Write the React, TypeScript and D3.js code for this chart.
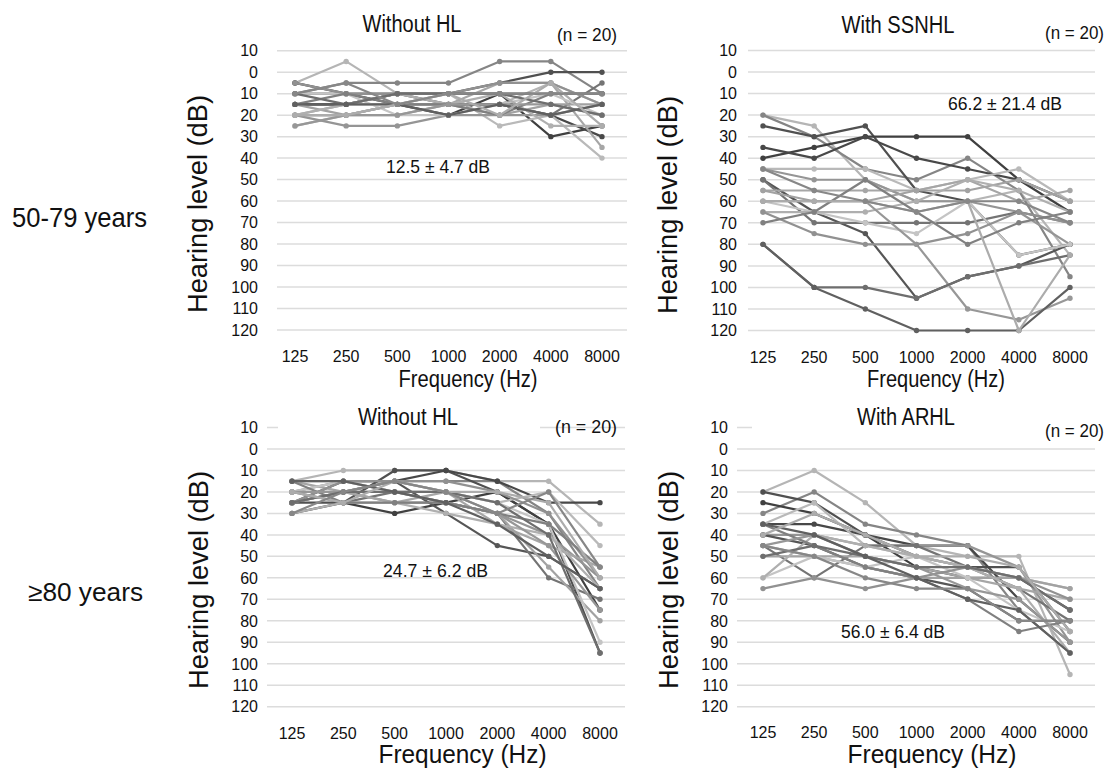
import { line, scaleLinear, scalePoint } from "d3";

const FREQUENCIES = ["125", "250", "500", "1000", "2000", "4000", "8000"];
const DB_TICKS = [-10, 0, 10, 20, 30, 40, 50, 60, 70, 80, 90, 100, 110, 120];

const ROW_LABELS = ["50-79 years", "≥80 years"];
const PANEL_TITLES = ["Without HL", "With SSNHL", "Without HL", "With ARHL"];
const SAMPLE_SIZES = ["(n = 20)", "(n = 20)", "(n = 20)", "(n = 20)"];
const SUMMARIES = ["12.5 ± 4.7 dB", "66.2 ± 21.4 dB", "24.7 ± 6.2 dB", "56.0 ± 6.4 dB"];
const Y_TITLE = "Hearing level (dB)";
const X_TITLE = "Frequency (Hz)";

// hearing thresholds (dB) per subject, 125 .. 8000 Hz
const MID_NORMAL = [
  [5, -5, 10, 15, 15, 5, 15],
  [10, 5, 5, 5, -5, -5, 10],
  [15, 15, 10, 10, 5, 0, 0],
  [5, 10, 15, 20, 10, 30, 25],
  [20, 20, 15, 15, 15, 20, 30],
  [25, 20, 15, 10, 25, 20, 40],
  [20, 25, 25, 20, 20, 20, 15],
  [15, 15, 10, 10, 10, 10, 10],
  [10, 10, 10, 15, 15, 20, 5],
  [20, 15, 15, 15, 5, 5, 35],
  [15, 20, 20, 15, 20, 15, 15],
  [10, 10, 20, 20, 15, 10, 20],
  [20, 15, 10, 15, 10, 25, 25],
  [5, 10, 10, 10, 5, 5, 15],
  [15, 10, 15, 15, 20, 10, 10],
  [25, 20, 20, 15, 15, 15, 20],
  [10, 15, 10, 10, 10, 15, 20],
  [15, 15, 15, 20, 15, 20, 15],
  [20, 20, 15, 10, 20, 5, 25],
  [10, 5, 15, 10, 10, 10, 10],
];

const MID_SSNHL = [
  [20, 25, 50, 60, 60, 55, 85],
  [20, 30, 45, 50, 40, 55, 95],
  [25, 30, 25, 55, 60, 85, 80],
  [40, 35, 30, 30, 30, 50, 65],
  [35, 40, 30, 40, 45, 50, 60],
  [45, 45, 45, 55, 50, 45, 60],
  [45, 50, 50, 60, 60, 65, 80],
  [50, 65, 75, 105, 95, 90, 80],
  [50, 70, 70, 70, 70, 65, 70],
  [55, 55, 55, 55, 50, 60, 55],
  [55, 60, 60, 55, 55, 50, 60],
  [60, 65, 70, 75, 60, 85, 80],
  [65, 65, 65, 60, 50, 55, 65],
  [65, 75, 80, 80, 75, 65, 70],
  [70, 65, 50, 65, 80, 70, 65],
  [60, 60, 60, 80, 110, 115, 105],
  [80, 100, 100, 105, 95, 90, 85],
  [80, 100, 110, 120, 120, 120, 100],
  [60, 60, 60, 65, 60, 120, 85],
  [45, 55, 60, 65, 60, 60, 70],
];

const OLD_NORMAL = [
  [15, 10, 10, 10, 15, 15, 35],
  [20, 15, 15, 15, 15, 30, 65],
  [25, 25, 10, 10, 20, 35, 95],
  [30, 25, 30, 25, 20, 35, 75],
  [25, 15, 15, 10, 15, 25, 25],
  [15, 15, 20, 20, 25, 20, 45],
  [20, 20, 25, 25, 30, 40, 60],
  [25, 20, 15, 30, 45, 50, 65],
  [20, 25, 20, 25, 30, 60, 70],
  [15, 20, 25, 20, 35, 45, 55],
  [25, 20, 20, 25, 30, 55, 80],
  [20, 15, 20, 20, 25, 35, 90],
  [30, 25, 25, 30, 35, 40, 65],
  [25, 15, 15, 15, 20, 30, 60],
  [15, 25, 25, 25, 30, 35, 55],
  [20, 20, 15, 20, 30, 45, 75],
  [25, 20, 20, 20, 25, 40, 95],
  [15, 15, 20, 25, 35, 50, 65],
  [20, 25, 15, 20, 20, 25, 60],
  [30, 20, 15, 20, 30, 20, 55],
];

const OLD_ARHL = [
  [20, 10, 25, 45, 50, 50, 105],
  [30, 20, 35, 40, 45, 75, 95],
  [20, 25, 40, 50, 55, 55, 85],
  [25, 30, 40, 55, 60, 60, 75],
  [35, 35, 40, 45, 45, 70, 90],
  [35, 25, 45, 50, 55, 60, 65],
  [40, 40, 45, 45, 45, 55, 90],
  [40, 45, 55, 60, 65, 80, 80],
  [45, 60, 45, 45, 55, 65, 80],
  [45, 50, 50, 55, 60, 65, 70],
  [50, 50, 55, 60, 60, 60, 65],
  [60, 50, 55, 50, 60, 75, 85],
  [60, 40, 45, 50, 55, 65, 95],
  [65, 60, 65, 60, 55, 60, 70],
  [35, 45, 55, 60, 70, 85, 80],
  [45, 40, 50, 55, 65, 70, 90],
  [50, 45, 50, 55, 55, 60, 75],
  [35, 40, 50, 60, 70, 75, 95],
  [40, 30, 40, 50, 50, 55, 85],
  [45, 50, 60, 65, 65, 80, 80],
];

const PANEL_DATA = [MID_NORMAL, MID_SSNHL, OLD_NORMAL, OLD_ARHL];

// grey shades, one per subject line
const SHADES = [
  "#b5b5b5", "#858585", "#505050", "#404040", "#484848",
  "#b9b9b9", "#959595", "#565656", "#747474", "#a6a6a6",
  "#a2a2a2", "#c4c4c4", "#afafaf", "#919191", "#808080",
  "#979797", "#6e6e6e", "#606060", "#acacac", "#878787",
];

const LAYOUT = [
  { grid: [277, 627], xr: [295, 602], yr: [50.7, 330], tickX: 258, tickY: 362,
    title: [412, 32, 99], n: [557, 40.5, 60], stat: [386, 173, 104],
    yTitle: [207, 204], xTitle: [468, 387, 139, 23], mask: null },
  { grid: [748, 1095], xr: [763, 1070], yr: [50.5, 330.5], tickX: 737, tickY: 363,
    title: [898, 33, 113], n: [1045, 38.5, 59], stat: [948, 110, 114],
    yTitle: [677, 205], xTitle: [936, 387, 138, 23], mask: null },
  { grid: [267, 625], xr: [292, 600], yr: [427.5, 706.7], tickX: 258, tickY: 738.5,
    title: [408, 425, 100], n: [555, 433, 62], stat: [383, 577, 105],
    yTitle: [208, 580], xTitle: [462.5, 763, 168, 25], mask: [278, 540] },
  { grid: [737, 1095], xr: [763, 1070], yr: [427.5, 706.7], tickX: 728, tickY: 737.5,
    title: [906, 425, 98], n: [1045, 437, 59], stat: [841, 638, 104],
    yTitle: [678, 580], xTitle: [932, 763, 169, 25], mask: [752, 1100] },
];

const FONT = "'Liberation Sans', Arial, sans-serif";

function Panel({ index }: { index: number }) {
  const L = LAYOUT[index];
  const series = PANEL_DATA[index];
  const x = scalePoint<string>().domain(FREQUENCIES).range(L.xr as [number, number]);
  const y = scaleLinear().domain([-10, 120]).range(L.yr as [number, number]);
  const path = line<number>()
    .x((_, i) => x(FREQUENCIES[i]) as number)
    .y((d) => y(d));

  return (
    <g fontFamily={FONT}>
      {DB_TICKS.map((t) => (
        <g key={t}>
          <line x1={L.grid[0]} x2={L.grid[1]} y1={y(t)} y2={y(t)} stroke="#dcdcdc" strokeWidth={1.5} />
          <text x={L.tickX} y={y(t)} dy="0.36em" textAnchor="end" fontSize={16} fill="#111">
            {Math.abs(t)}
          </text>
        </g>
      ))}
      {L.mask && (
        <rect x={L.mask[0]} y={y(-10) - 4} width={L.mask[1] - L.mask[0]} height={8} fill="#fff" />
      )}
      {FREQUENCIES.map((f) => (
        <text key={f} x={x(f)} y={L.tickY} textAnchor="middle" fontSize={16} fill="#111">
          {f}
        </text>
      ))}
      {series.map((s, i) => (
        <g key={i} stroke={SHADES[i]} fill={SHADES[i]}>
          <path d={path(s) ?? ""} fill="none" strokeWidth={2.2} strokeLinejoin="round" />
          {s.map((v, j) => (
            <circle key={j} cx={x(FREQUENCIES[j])} cy={y(v)} r={2.7} stroke="none" />
          ))}
        </g>
      ))}
      <text x={L.title[0]} y={L.title[1]} textAnchor="middle" fontSize={23} fill="#111"
        textLength={L.title[2]} lengthAdjust="spacingAndGlyphs">
        {PANEL_TITLES[index]}
      </text>
      <text x={L.n[0]} y={L.n[1]} fontSize={19} fill="#111" textLength={L.n[2]} lengthAdjust="spacingAndGlyphs">
        {SAMPLE_SIZES[index]}
      </text>
      <text x={L.stat[0]} y={L.stat[1]} fontSize={19} fill="#111" textLength={L.stat[2]} lengthAdjust="spacingAndGlyphs">
        {SUMMARIES[index]}
      </text>
      <text transform={`translate(${L.yTitle[0]},${L.yTitle[1]}) rotate(-90)`} textAnchor="middle"
        fontSize={28} fill="#111" textLength={218} lengthAdjust="spacingAndGlyphs">
        {Y_TITLE}
      </text>
      <text x={L.xTitle[0]} y={L.xTitle[1]} textAnchor="middle" fontSize={L.xTitle[3]} fill="#111"
        textLength={L.xTitle[2]} lengthAdjust="spacingAndGlyphs">
        {X_TITLE}
      </text>
    </g>
  );
}

export default function App() {
  return (
    <svg width={1110} height={772} viewBox="0 0 1110 772"
      style={{ position: "absolute", left: 0, top: 0, background: "#fff" }}>
      <rect width={1110} height={772} fill="#fff" />
      <text x={12} y={227} fontFamily={FONT} fontSize={28} fill="#111" textLength={135} lengthAdjust="spacingAndGlyphs">
        {ROW_LABELS[0]}
      </text>
      <text x={28} y={601} fontFamily={FONT} fontSize={26} fill="#111" textLength={115} lengthAdjust="spacingAndGlyphs">
        {ROW_LABELS[1]}
      </text>
      {LAYOUT.map((_, i) => (
        <Panel key={i} index={i} />
      ))}
    </svg>
  );
}
